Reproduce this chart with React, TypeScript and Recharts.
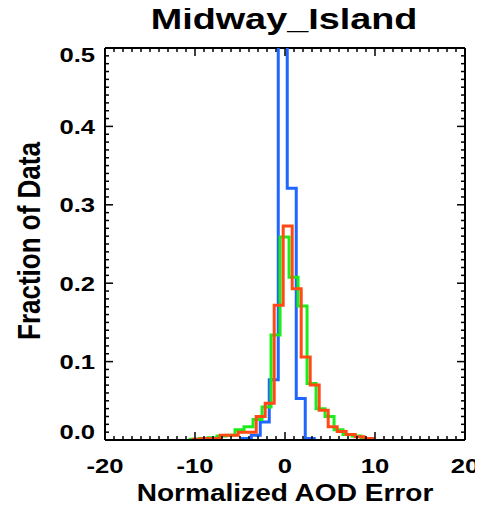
import { LineChart, Line, XAxis, YAxis, ReferenceLine } from 'recharts';

// histogram fractions, bin width 1, each series has its own first bin edge
const BIN = 1;
const blueStart = -4.75;
const blueFrac = [0.002, 0.006, 0.023, 0.077, 0.515, 0.321, 0.053, 0.002];
const greenStart = -10.55;
const greenFrac = [
  0.001, 0.002, 0.003, 0.005, 0.006, 0.013, 0.017, 0.026, 0.042, 0.134,
  0.259, 0.2075, 0.171, 0.072, 0.04, 0.03, 0.013, 0.007, 0.005, 0.002,
];
const orangeStart = -10.2;
const orangeFrac = [
  0.001, 0.002, 0.002, 0.006, 0.006, 0.01, 0.01, 0.03, 0.047, 0.172,
  0.273, 0.193, 0.106, 0.07, 0.038, 0.017, 0.011, 0.007, 0.004, 0.002,
];

const xTicks = Array.from({ length: 41 }, (_, i) => i - 20);
const yTicks = Array.from({ length: 51 }, (_, i) => i / 100);

// svg is pulled up to the page top so the title can sit close to it
const W = 475;
const H = 506;
const PLOT_LEFT = 97;
const PLOT_RIGHT = 457;
const PLOT_TOP = 48;
const PLOT_BOTTOM = 440;
const SX = 1.22; // the original text is a bit wide
const FONT = "'Liberation Sans', Arial, Helvetica, sans-serif";

function toSteps(start: number, fracs: number[]) {
  const pts = [{ x: start, y: 0 }];
  fracs.forEach((f, i) => pts.push({ x: start + i * BIN, y: f }));
  pts.push({ x: start + fracs.length * BIN, y: 0 });
  return pts;
}

function Txt({ x, y, size, anchor = 'middle', rotate = false, sx = SX, children }: any) {
  return (
    <text
      transform={`translate(${x},${y}) scale(${sx},1)${rotate ? ' rotate(-90)' : ''}`}
      fontSize={size}
      fontWeight="bold"
      fontFamily={FONT}
      textAnchor={anchor}
      fill="#000"
    >
      {children}
    </text>
  );
}

const XTick = (p: any) => {
  const v = p.payload.value;
  const major = v % 10 === 0;
  const len = major ? 8 : 4;
  return (
    <g>
      <line x1={p.x} x2={p.x} y1={p.y} y2={p.y - len} stroke="#000" strokeWidth={1.5} />
      <line x1={p.x} x2={p.x} y1={PLOT_TOP} y2={PLOT_TOP + len} stroke="#000" strokeWidth={1.5} />
      {major && (
        <Txt x={p.x} y={p.y + 33} size={21}>
          {String(v)}
        </Txt>
      )}
    </g>
  );
};

const YTick = (p: any) => {
  const v = p.payload.value;
  const k = Math.round(v * 100);
  const major = k % 10 === 0;
  const len = major ? 8 : 4;
  let dy = 7.5;
  if (k === 0) dy = -1;
  if (k === 50) dy = 14;
  return (
    <g>
      <line x1={p.x} x2={p.x + len} y1={p.y} y2={p.y} stroke="#000" strokeWidth={1.5} />
      <line x1={PLOT_RIGHT} x2={PLOT_RIGHT - len} y1={p.y} y2={p.y} stroke="#000" strokeWidth={1.5} />
      {major && (
        <Txt x={p.x - 10} y={p.y + dy} size={21} anchor="end">
          {(k / 100).toFixed(1)}
        </Txt>
      )}
    </g>
  );
};

export default function App() {
  return (
    <div style={{ width: W, height: H, marginTop: -8 }}>
      <LineChart
        width={W}
        height={H}
        margin={{ top: PLOT_TOP, right: W - PLOT_RIGHT, bottom: 0, left: 0 }}
      >
        <XAxis
          dataKey="x"
          type="number"
          domain={[-20, 20]}
          allowDataOverflow
          ticks={xTicks}
          interval={0}
          height={H - PLOT_BOTTOM}
          tickSize={0}
          tickMargin={0}
          tickLine={false}
          tick={XTick}
          axisLine={{ stroke: '#000', strokeWidth: 2 }}
        />
        <YAxis
          type="number"
          domain={[0, 0.5]}
          allowDataOverflow
          ticks={yTicks}
          interval={0}
          width={PLOT_LEFT}
          tickSize={0}
          tickMargin={0}
          tickLine={false}
          tick={YTick}
          axisLine={{ stroke: '#000', strokeWidth: 2 }}
        />
        <ReferenceLine y={0.5} stroke="#000" strokeWidth={2} />
        <ReferenceLine x={20} stroke="#000" strokeWidth={2} />
        <Line
          data={toSteps(blueStart, blueFrac)}
          dataKey="y"
          type="stepAfter"
          stroke="#1f66ff"
          strokeWidth={3}
          dot={false}
          isAnimationActive={false}
        />
        <Line
          data={toSteps(greenStart, greenFrac)}
          dataKey="y"
          type="stepAfter"
          stroke="#1aee1a"
          strokeWidth={3}
          dot={false}
          isAnimationActive={false}
        />
        <Line
          data={toSteps(orangeStart, orangeFrac)}
          dataKey="y"
          type="stepAfter"
          stroke="#ff4a14"
          strokeWidth={3}
          dot={false}
          isAnimationActive={false}
        />
        <Txt x={(PLOT_LEFT + PLOT_RIGHT) / 2 - 1} y={29} size={30} sx={1.26}>
          Midway_Island
        </Txt>
        <Txt x={(PLOT_LEFT + PLOT_RIGHT) / 2} y={501} size={23}>
          Normalized AOD Error
        </Txt>
        <Txt x={32} y={(PLOT_TOP + PLOT_BOTTOM) / 2 - 3} size={26} rotate>
          Fraction of Data
        </Txt>
      </LineChart>
    </div>
  );
}
